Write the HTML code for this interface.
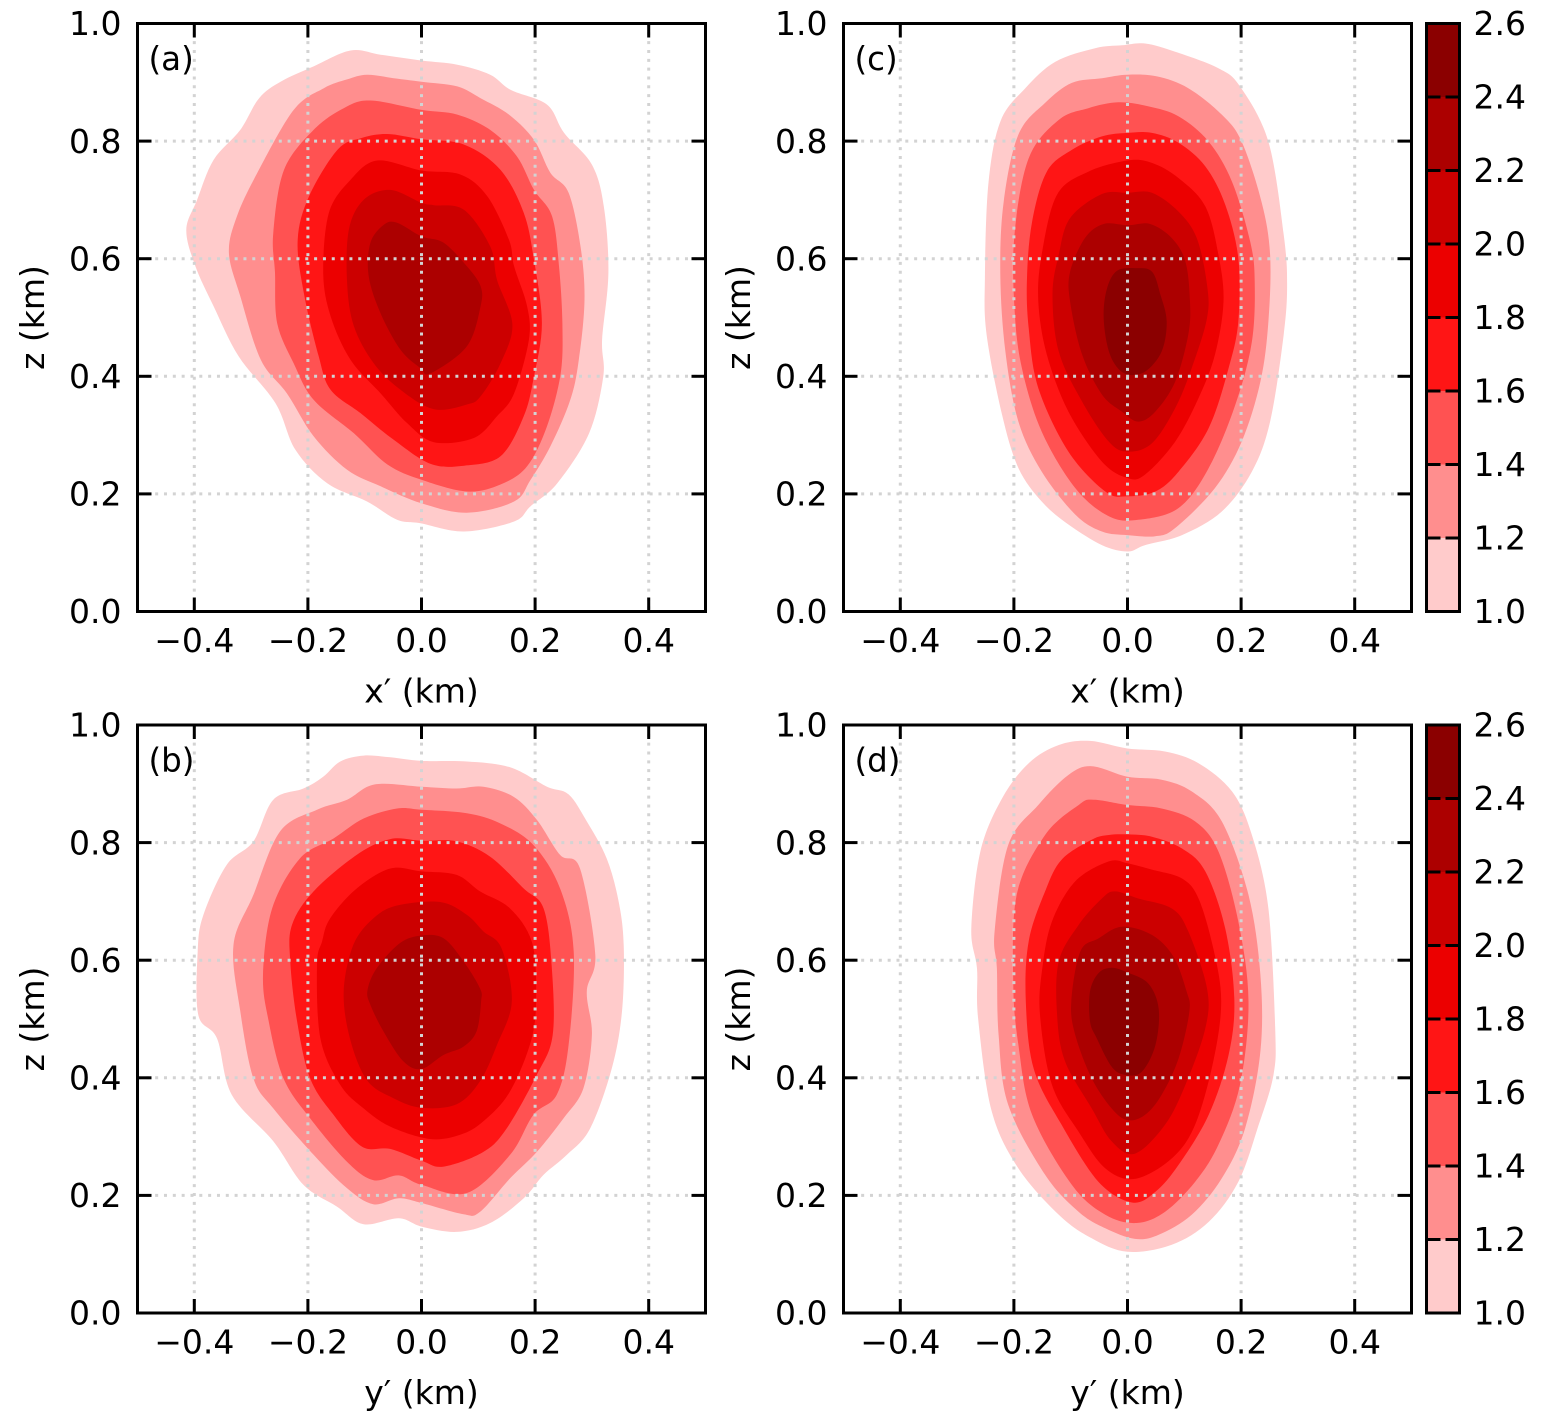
<!DOCTYPE html>
<html lang="en">
<head>
<meta charset="utf-8">
<title>Contour panels</title>
<style>
html,body{margin:0;padding:0;background:#fff;}
svg{display:block;}
text{font-family:"DejaVu Sans","Liberation Sans",sans-serif;fill:#000;}
</style>
</head>
<body>
<svg id="figure" xmlns="http://www.w3.org/2000/svg" width="1543" height="1424" viewBox="0 0 1543 1424"></svg>
<script>
const xTicks=[-0.4,-0.2,0,0.2,0.4];
const zTicks=[0,0.2,0.4,0.6,0.8,1];
const xTickLabels=['\u22120.4','\u22120.2','0.0','0.2','0.4'];
const zTickLabels=['0.0','0.2','0.4','0.6','0.8','1.0'];
const colorbarLevels=[1,1.2,1.4,1.6,1.8,2,2.2,2.4,2.6];
const colorbarLabels=['1.0','1.2','1.4','1.6','1.8','2.0','2.2','2.4','2.6'];

const panelA=[
[[-0.125,0.954],[-0.072,0.947],[0,0.937],[0.063,0.930],[0.121,0.913],[0.157,0.887],[0.221,0.862],[0.251,0.814],[0.300,0.760],[0.321,0.689],[0.329,0.576],[0.318,0.462],[0.320,0.400],[0.295,0.303],[0.239,0.218],[0.192,0.179],[0.163,0.153],[0.075,0.136],[-0.002,0.150],[-0.043,0.156],[-0.096,0.187],[-0.166,0.218],[-0.222,0.275],[-0.257,0.354],[-0.322,0.434],[-0.366,0.519],[-0.398,0.587],[-0.414,0.649],[-0.395,0.700],[-0.366,0.768],[-0.319,0.819],[-0.286,0.873],[-0.248,0.901],[-0.190,0.927]],
[[-0.096,0.913],[-0.049,0.907],[0,0.901],[0.063,0.893],[0.104,0.873],[0.154,0.845],[0.198,0.802],[0.227,0.746],[0.259,0.712],[0.280,0.621],[0.287,0.530],[0.277,0.428],[0.262,0.360],[0.227,0.281],[0.192,0.224],[0.163,0.187],[0.080,0.168],[0,0.184],[-0.072,0.213],[-0.131,0.241],[-0.190,0.298],[-0.237,0.371],[-0.283,0.428],[-0.319,0.536],[-0.339,0.610],[-0.325,0.672],[-0.289,0.746],[-0.225,0.853],[-0.172,0.890],[-0.131,0.905]],
[[-0.090,0.869],[0,0.853],[0.063,0.845],[0.121,0.819],[0.168,0.774],[0.198,0.717],[0.230,0.672],[0.242,0.587],[0.248,0.490],[0.245,0.405],[0.221,0.315],[0.186,0.247],[0.139,0.216],[0.080,0.204],[0,0.224],[-0.060,0.250],[-0.119,0.303],[-0.190,0.360],[-0.225,0.422],[-0.254,0.490],[-0.258,0.576],[-0.261,0.644],[-0.242,0.751],[-0.190,0.819],[-0.137,0.856]],
[[-0.060,0.812],[0,0.803],[0.075,0.794],[0.139,0.751],[0.180,0.678],[0.198,0.598],[0.212,0.490],[0.198,0.400],[0.180,0.332],[0.139,0.264],[0.075,0.248],[0.016,0.251],[-0.049,0.292],[-0.107,0.337],[-0.160,0.377],[-0.181,0.434],[-0.207,0.541],[-0.218,0.632],[-0.198,0.706],[-0.148,0.785],[-0.107,0.805]],
[[-0.078,0.767],[0,0.750],[0.069,0.743],[0.116,0.706],[0.154,0.632],[0.163,0.587],[0.186,0.519],[0.189,0.462],[0.163,0.371],[0.133,0.332],[0.092,0.295],[0.022,0.288],[-0.025,0.320],[-0.072,0.371],[-0.125,0.428],[-0.160,0.502],[-0.173,0.576],[-0.163,0.678],[-0.125,0.734]],
[[-0.055,0.717],[0,0.695],[0.022,0.691],[0.075,0.683],[0.121,0.621],[0.133,0.564],[0.160,0.488],[0.139,0.422],[0.104,0.366],[0.080,0.352],[0.022,0.344],[-0.037,0.377],[-0.084,0.422],[-0.119,0.485],[-0.131,0.559],[-0.128,0.649],[-0.102,0.700]],
[[-0.043,0.661],[0,0.638],[0.039,0.627],[0.080,0.587],[0.104,0.553],[0.104,0.519],[0.080,0.451],[0.016,0.405],[-0.002,0.414],[-0.037,0.445],[-0.072,0.507],[-0.093,0.570],[-0.090,0.627],[-0.066,0.658]]
];

const panelB=[
[[-0.102,0.948],[-0.055,0.945],[0,0.939],[0.080,0.938],[0.156,0.928],[0.221,0.895],[0.259,0.882],[0.291,0.836],[0.326,0.773],[0.347,0.700],[0.356,0.626],[0.353,0.513],[0.335,0.416],[0.297,0.314],[0.256,0.269],[0.215,0.235],[0.180,0.195],[0.121,0.153],[0.062,0.138],[0,0.147],[-0.040,0.161],[-0.102,0.151],[-0.149,0.181],[-0.208,0.218],[-0.261,0.292],[-0.334,0.371],[-0.360,0.467],[-0.393,0.507],[-0.394,0.615],[-0.384,0.677],[-0.343,0.762],[-0.296,0.802],[-0.261,0.873],[-0.208,0.892],[-0.173,0.912],[-0.143,0.938]],
[[-0.082,0.899],[0,0.895],[0.062,0.892],[0.109,0.895],[0.162,0.878],[0.203,0.839],[0.244,0.779],[0.279,0.756],[0.306,0.609],[0.291,0.547],[0.300,0.473],[0.285,0.382],[0.250,0.331],[0.203,0.274],[0.156,0.229],[0.103,0.172],[0.074,0.168],[0,0.187],[-0.040,0.195],[-0.085,0.185],[-0.131,0.212],[-0.190,0.269],[-0.261,0.348],[-0.296,0.399],[-0.319,0.513],[-0.331,0.626],[-0.296,0.711],[-0.249,0.819],[-0.184,0.856],[-0.131,0.873]],
[[-0.043,0.858],[0,0.856],[0.080,0.850],[0.138,0.833],[0.197,0.796],[0.244,0.722],[0.268,0.615],[0.259,0.456],[0.238,0.371],[0.197,0.337],[0.156,0.269],[0.080,0.204],[0,0.218],[-0.040,0.234],[-0.085,0.226],[-0.131,0.257],[-0.196,0.331],[-0.243,0.399],[-0.269,0.496],[-0.279,0.575],[-0.263,0.688],[-0.214,0.773],[-0.155,0.807],[-0.102,0.841]],
[[-0.055,0.806],[0,0.803],[0.062,0.802],[0.121,0.776],[0.180,0.722],[0.215,0.688],[0.229,0.592],[0.231,0.473],[0.203,0.405],[0.150,0.314],[0.109,0.274],[0.039,0.249],[0,0.259],[-0.055,0.279],[-0.105,0.283],[-0.155,0.337],[-0.196,0.399],[-0.219,0.496],[-0.231,0.598],[-0.228,0.660],[-0.190,0.717],[-0.114,0.779]],
[[-0.055,0.756],[0,0.751],[0.062,0.745],[0.103,0.717],[0.156,0.688],[0.194,0.632],[0.202,0.547],[0.194,0.467],[0.156,0.377],[0.109,0.326],[0.068,0.303],[0.015,0.296],[-0.055,0.317],[-0.102,0.348],[-0.143,0.388],[-0.178,0.467],[-0.184,0.592],[-0.175,0.632],[-0.161,0.671],[-0.114,0.722]],
[[-0.043,0.693],[0.033,0.699],[0.080,0.677],[0.109,0.649],[0.141,0.620],[0.159,0.530],[0.133,0.456],[0.103,0.394],[0.062,0.355],[0,0.349],[-0.049,0.365],[-0.096,0.396],[-0.126,0.467],[-0.137,0.547],[-0.120,0.626],[-0.085,0.671]],
[[0,0.642],[0.039,0.637],[0.074,0.598],[0.103,0.552],[0.105,0.530],[0.097,0.479],[0.074,0.453],[0.039,0.439],[0,0.415],[-0.032,0.428],[-0.067,0.479],[-0.090,0.524],[-0.095,0.549],[-0.079,0.586],[-0.038,0.629]]
];

const panelC=[
[[0.031,0.966],[0.084,0.952],[0.160,0.924],[0.198,0.893],[0.248,0.799],[0.275,0.641],[0.281,0.556],[0.275,0.471],[0.251,0.323],[0.219,0.238],[0.166,0.170],[0.096,0.130],[0.031,0.113],[0,0.102],[-0.045,0.113],[-0.104,0.148],[-0.151,0.187],[-0.192,0.244],[-0.221,0.335],[-0.248,0.471],[-0.251,0.567],[-0.245,0.726],[-0.224,0.833],[-0.180,0.890],[-0.127,0.935],[-0.057,0.958],[-0.010,0.963]],
[[0,0.913],[0.052,0.910],[0.107,0.890],[0.166,0.845],[0.201,0.799],[0.236,0.697],[0.251,0.607],[0.248,0.493],[0.234,0.391],[0.201,0.289],[0.154,0.210],[0.084,0.142],[0.049,0.128],[0,0.130],[-0.045,0.136],[-0.092,0.165],[-0.151,0.238],[-0.192,0.323],[-0.215,0.442],[-0.224,0.573],[-0.218,0.697],[-0.192,0.811],[-0.145,0.865],[-0.098,0.899],[-0.045,0.907]],
[[-0.016,0.866],[0.037,0.859],[0.090,0.842],[0.143,0.799],[0.184,0.731],[0.216,0.629],[0.224,0.561],[0.219,0.459],[0.190,0.352],[0.143,0.244],[0.090,0.176],[0.019,0.156],[-0.033,0.162],[-0.092,0.210],[-0.151,0.306],[-0.186,0.414],[-0.199,0.516],[-0.199,0.641],[-0.174,0.771],[-0.121,0.836],[-0.069,0.856]],
[[0,0.814],[0.043,0.814],[0.090,0.797],[0.137,0.757],[0.172,0.692],[0.195,0.601],[0.195,0.493],[0.178,0.414],[0.143,0.312],[0.090,0.238],[0.049,0.204],[0,0.196],[-0.039,0.204],[-0.104,0.272],[-0.157,0.380],[-0.174,0.482],[-0.177,0.567],[-0.168,0.663],[-0.142,0.748],[-0.098,0.785],[-0.045,0.808]],
[[0,0.767],[0.043,0.763],[0.090,0.737],[0.137,0.689],[0.160,0.607],[0.169,0.527],[0.154,0.437],[0.125,0.363],[0.084,0.289],[0.031,0.233],[0,0.227],[-0.045,0.255],[-0.104,0.340],[-0.142,0.437],[-0.157,0.527],[-0.151,0.607],[-0.124,0.709],[-0.069,0.748]],
[[-0.045,0.710],[0,0.712],[0.043,0.712],[0.090,0.680],[0.122,0.635],[0.140,0.556],[0.140,0.499],[0.113,0.414],[0.084,0.346],[0.043,0.286],[0,0.272],[-0.033,0.289],[-0.080,0.357],[-0.121,0.442],[-0.132,0.539],[-0.121,0.607],[-0.101,0.669]],
[[-0.042,0.659],[0,0.657],[0.040,0.659],[0.078,0.635],[0.102,0.595],[0.110,0.527],[0.107,0.471],[0.084,0.391],[0.049,0.340],[0.019,0.323],[-0.010,0.340],[-0.045,0.369],[-0.080,0.437],[-0.101,0.527],[-0.101,0.578],[-0.075,0.635]],
[[-0.019,0.579],[0.013,0.584],[0.043,0.578],[0.058,0.539],[0.069,0.493],[0.060,0.442],[0.031,0.408],[0,0.403],[-0.022,0.420],[-0.036,0.454],[-0.042,0.505],[-0.036,0.550]]
];

const panelD=[
[[-0.066,0.973],[0,0.960],[0.066,0.955],[0.125,0.935],[0.184,0.887],[0.219,0.813],[0.248,0.688],[0.260,0.484],[0.257,0.405],[0.231,0.320],[0.195,0.223],[0.143,0.155],[0.078,0.116],[0,0.104],[-0.063,0.127],[-0.121,0.167],[-0.192,0.246],[-0.239,0.343],[-0.263,0.501],[-0.265,0.586],[-0.275,0.654],[-0.259,0.785],[-0.221,0.875],[-0.174,0.935],[-0.121,0.966]],
[[-0.063,0.930],[0,0.912],[0.060,0.907],[0.113,0.887],[0.166,0.836],[0.213,0.711],[0.234,0.575],[0.234,0.445],[0.207,0.314],[0.166,0.229],[0.113,0.167],[0.055,0.133],[0.013,0.126],[-0.039,0.144],[-0.086,0.172],[-0.145,0.235],[-0.210,0.354],[-0.227,0.473],[-0.230,0.586],[-0.234,0.649],[-0.210,0.796],[-0.157,0.864],[-0.104,0.915]],
[[-0.060,0.873],[0,0.864],[0.060,0.858],[0.119,0.836],[0.160,0.785],[0.195,0.666],[0.213,0.530],[0.198,0.388],[0.160,0.286],[0.119,0.223],[0.066,0.172],[0.016,0.153],[-0.039,0.167],[-0.098,0.218],[-0.168,0.337],[-0.192,0.456],[-0.201,0.558],[-0.195,0.711],[-0.145,0.813],[-0.086,0.864]],
[[-0.033,0.813],[0,0.814],[0.043,0.810],[0.096,0.790],[0.137,0.751],[0.172,0.654],[0.188,0.535],[0.178,0.439],[0.143,0.337],[0.090,0.252],[0.049,0.206],[0.008,0.188],[-0.051,0.223],[-0.116,0.320],[-0.165,0.415],[-0.179,0.530],[-0.174,0.632],[-0.145,0.717],[-0.116,0.771],[-0.063,0.805]],
[[-0.033,0.768],[0,0.765],[0.043,0.754],[0.096,0.739],[0.125,0.705],[0.151,0.620],[0.165,0.530],[0.151,0.428],[0.119,0.320],[0.078,0.263],[0.013,0.228],[-0.039,0.246],[-0.086,0.308],[-0.133,0.388],[-0.154,0.507],[-0.150,0.586],[-0.133,0.666],[-0.092,0.734]],
[[-0.022,0.717],[0.019,0.705],[0.078,0.688],[0.107,0.649],[0.140,0.552],[0.137,0.484],[0.102,0.388],[0.066,0.320],[0.013,0.271],[-0.028,0.292],[-0.063,0.348],[-0.110,0.428],[-0.124,0.507],[-0.121,0.598],[-0.086,0.660],[-0.045,0.705]],
[[-0.010,0.657],[0.043,0.643],[0.081,0.606],[0.104,0.547],[0.109,0.513],[0.090,0.433],[0.060,0.371],[0.031,0.337],[0,0.328],[-0.028,0.348],[-0.063,0.399],[-0.092,0.473],[-0.099,0.530],[-0.083,0.615],[-0.051,0.637]],
[[-0.028,0.587],[0,0.579],[0.037,0.560],[0.055,0.517],[0.049,0.455],[0.025,0.410],[-0.004,0.405],[-0.028,0.419],[-0.054,0.467],[-0.066,0.496],[-0.066,0.547],[-0.051,0.578]]
];

const NS='http://www.w3.org/2000/svg';
const svg=document.getElementById('figure');
const AXIS_W=568, AXIS_H=588;
const TICK_LEN=14, LINE_W=3, FONT=33;
const fillColors=['#ffcbcb','#ff8e8e','#ff5252','#ff1515','#ec0000','#cc0000','#ac0000','#8b0000'];

function make(tag,attrs,parent){
  const el=document.createElementNS(NS,tag);
  for(const k in attrs){el.setAttribute(k,attrs[k]);}
  (parent||svg).appendChild(el);
  return el;
}
function xScale(v,left){return left+(v+0.5)*AXIS_W;}
function zScale(v,top){return top+(1-v)*AXIS_H;}
function smoothPath(pts){
  const n=pts.length;
  let d='M'+pts[0][0].toFixed(1)+' '+pts[0][1].toFixed(1);
  for(let i=0;i<n;i++){
    const p0=pts[(i-1+n)%n],p1=pts[i],p2=pts[(i+1)%n],p3=pts[(i+2)%n];
    const c1x=p1[0]+(p2[0]-p0[0])/6,c1y=p1[1]+(p2[1]-p0[1])/6;
    const c2x=p2[0]-(p3[0]-p1[0])/6,c2y=p2[1]-(p3[1]-p1[1])/6;
    d+='C'+c1x.toFixed(1)+' '+c1y.toFixed(1)+' '+c2x.toFixed(1)+' '+c2y.toFixed(1)+' '+p2[0].toFixed(1)+' '+p2[1].toFixed(1);
  }
  return d+'Z';
}

function drawPanel(id,left,top,levels,xName){
  const g=make('g',{});
  
  
  const right=left+AXIS_W,bottom=top+AXIS_H;

  levels.forEach(function(points,i){
    const pts=points.map(function(p){return [xScale(p[0],left),zScale(p[1],top)];});
    const path=make('path',{d:smoothPath(pts),fill:fillColors[i]},g);
    
    
  });

  const dash={stroke:'#d3d3d3','stroke-width':LINE_W,'stroke-dasharray':'3 5.83',fill:'none'};
  xTicks.forEach(function(v){
    const x=xScale(v,left);
    const line=make('line',Object.assign({x1:x,x2:x,y1:top,y2:bottom},dash),g);
    
    
  });
  zTicks.slice(1,5).forEach(function(v){
    const y=zScale(v,top);
    const line=make('line',Object.assign({x1:left,x2:right,y1:y,y2:y},dash),g);
    
    
  });

  const ink={stroke:'#000','stroke-width':LINE_W,fill:'none'};
  xTicks.forEach(function(v,i){
    const x=xScale(v,left);
    const t1=make('line',Object.assign({x1:x,x2:x,y1:bottom,y2:bottom-TICK_LEN},ink),g);
    
    
    const t2=make('line',Object.assign({x1:x,x2:x,y1:top,y2:top+TICK_LEN},ink),g);
    
    
    const lab=make('text',{x:x,y:bottom+40.5,'text-anchor':'middle','font-size':FONT},g);
    lab.textContent=xTickLabels[i];
    
    
  });
  zTicks.forEach(function(v,i){
    const y=zScale(v,top);
    const t1=make('line',Object.assign({x1:left,x2:left+TICK_LEN,y1:y,y2:y},ink),g);
    
    
    const t2=make('line',Object.assign({x1:right,x2:right-TICK_LEN,y1:y,y2:y},ink),g);
    
    
    const lab=make('text',{x:left-16,y:y+11.7,'text-anchor':'end','font-size':FONT},g);
    lab.textContent=zTickLabels[i];
    
    
  });

  const frame=make('rect',Object.assign({x:left,y:top,width:AXIS_W,height:AXIS_H},ink),g);
  
  

  const xLabel=make('text',{x:left+AXIS_W/2,y:bottom+91,'text-anchor':'middle','font-size':FONT},g);
  xLabel.textContent=xName;
  
  

  const zx=left-93.5,zy=top+AXIS_H/2;
  const zLabel=make('text',{x:zx,y:zy,'text-anchor':'middle','font-size':FONT,transform:'rotate(-90 '+zx+' '+zy+')'},g);
  zLabel.textContent='z (km)';
  
  

  const tag=make('text',{x:left+11,y:top+46.5,'font-size':32.5},g);
  tag.textContent='('+id+')';
  
  
}

function drawColorbar(id,left,top){
  const g=make('g',{});
  
  
  const width=33;
  const lo=colorbarLevels[0],hi=colorbarLevels[colorbarLevels.length-1];
  const cbScale=function(v){return top+(hi-v)/(hi-lo)*AXIS_H;};
  for(let i=0;i<colorbarLevels.length-1;i++){
    const y1=cbScale(colorbarLevels[i+1]),y0=cbScale(colorbarLevels[i]);
    const band=make('rect',{x:left,y:y1,width:width,height:y0-y1,fill:fillColors[i]},g);
    
    
  }
  const ink={stroke:'#000','stroke-width':LINE_W,fill:'none'};
  colorbarLevels.forEach(function(v,i){
    const y=cbScale(v);
    const t1=make('line',Object.assign({x1:left,x2:left+TICK_LEN,y1:y,y2:y},ink),g);
    
    
    const t2=make('line',Object.assign({x1:left+width,x2:left+width-TICK_LEN,y1:y,y2:y},ink),g);
    
    
    const lab=make('text',{x:left+47,y:y+11.7,'font-size':FONT},g);
    lab.textContent=colorbarLabels[i];
    
    
  });
  const frame=make('rect',Object.assign({x:left,y:top,width:width,height:AXIS_H},ink),g);
  
  
}

drawPanel('a',137.5,23.5,panelA,'x\u2032 (km)');
drawPanel('b',137.5,725,panelB,'y\u2032 (km)');
drawPanel('c',843.5,23.5,panelC,'x\u2032 (km)');
drawPanel('d',843.5,725,panelD,'y\u2032 (km)');
drawColorbar('top',1426.5,23.5);
drawColorbar('bottom',1426.5,725);
</script>
</body>
</html>
